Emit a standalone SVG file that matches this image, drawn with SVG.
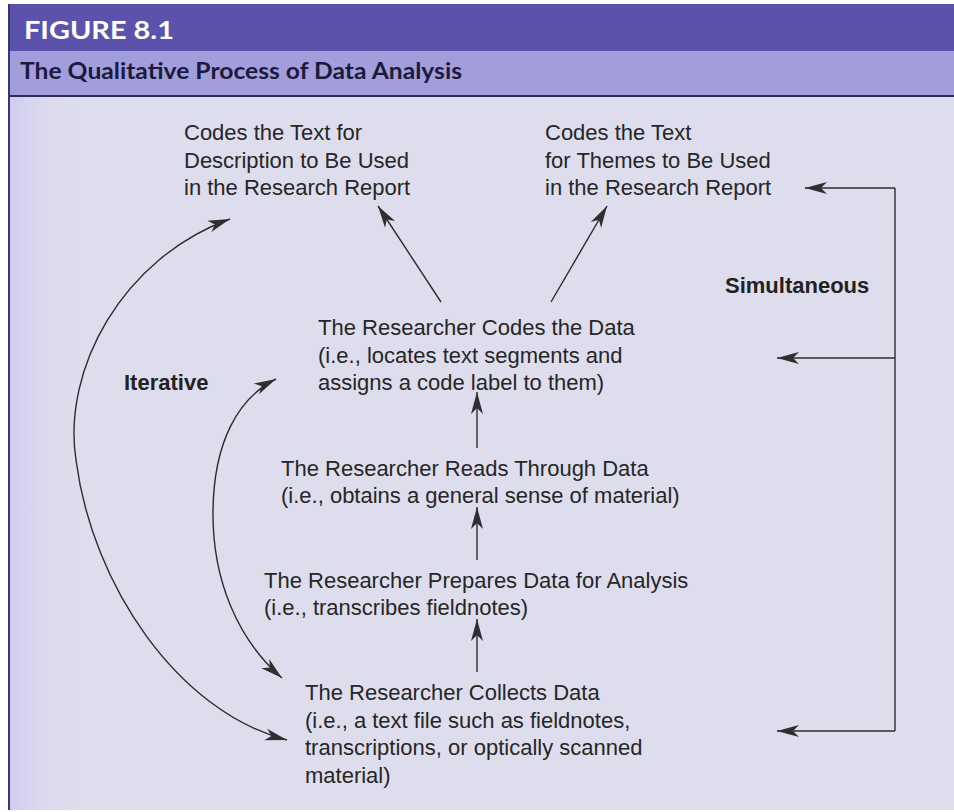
<svg xmlns="http://www.w3.org/2000/svg" width="954" height="812" viewBox="0 0 954 812">
  <style>
    .t { font-family: "Liberation Sans", Arial, sans-serif; font-size: 22px; fill: #262626; }
    .b { font-family: "Liberation Sans", Arial, sans-serif; font-size: 22px; font-weight: bold; fill: #222; }
    .fig { font-family: Lato, "Open Sans", sans-serif; font-size: 25px; font-weight: bold; fill: #ffffff; }
    .ttl { font-family: Lato, "Open Sans", sans-serif; font-size: 22px; font-weight: bold; fill: #1c1a3c; }
    .ln { fill: none; stroke: #2c2c2c; stroke-width: 1.4; }
  </style>
  <defs>
    <marker id="ah" viewBox="-23 -7 25 14" refX="0" refY="0" markerWidth="25" markerHeight="14" markerUnits="userSpaceOnUse" orient="auto-start-reverse">
      <path d="M -22,-6 L 0,0 L -22,6 L -16,0 Z" fill="#2f2f2f"/>
    </marker>
    <linearGradient id="edge" x1="0" y1="0" x2="1" y2="0">
      <stop offset="0" stop-color="#cfccf0"/>
      <stop offset="1" stop-color="#dfdeef" stop-opacity="0"/>
    </linearGradient>
  </defs>

  <!-- page background and header bands -->
  <rect x="0" y="0" width="954" height="812" fill="#ffffff"/>
  <rect x="9" y="4" width="945" height="806" fill="#dedded"/>
  <rect x="9" y="96" width="70" height="714" fill="url(#edge)"/>
  <rect x="9" y="4" width="945" height="47" fill="#5b53ab"/>
  <rect x="9" y="51" width="945" height="44" fill="#a29edc"/>
  <line x1="9" y1="96" x2="954" y2="96" stroke="#2f2c5a" stroke-width="2"/>
  <line x1="9" y1="4" x2="9" y2="810" stroke="#3a3570" stroke-width="2"/>
  <text class="fig" x="24" y="39" textLength="150" lengthAdjust="spacingAndGlyphs">FIGURE 8.1</text>
  <text class="ttl" x="20" y="79" textLength="442" lengthAdjust="spacingAndGlyphs">The Qualitative Process of Data Analysis</text>

  <!-- connectors -->
  <g id="connectors">
    <line class="ln" x1="441" y1="302" x2="378" y2="206" marker-end="url(#ah)"/>
    <line class="ln" x1="551" y1="302" x2="607" y2="206" marker-end="url(#ah)"/>
    <line class="ln" x1="477" y1="448" x2="477" y2="392" marker-end="url(#ah)"/>
    <line class="ln" x1="477" y1="560" x2="477" y2="507" marker-end="url(#ah)"/>
    <line class="ln" x1="477" y1="672" x2="477" y2="619" marker-end="url(#ah)"/>
    <path class="ln" d="M 895,188 L 895,731"/>
    <line class="ln" x1="895" y1="188" x2="805" y2="188" marker-end="url(#ah)"/>
    <line class="ln" x1="895" y1="358" x2="777" y2="358" marker-end="url(#ah)"/>
    <line class="ln" x1="895" y1="731" x2="777" y2="731" marker-end="url(#ah)"/>
    <path class="ln" d="M 230,219 C 122,258 62,370 76,460 C 92,585 178,712 287,740" marker-start="url(#ah)" marker-end="url(#ah)"/>
    <path class="ln" d="M 276,379 C 238,398 214,442 213,510 C 212,580 238,640 282,678" marker-start="url(#ah)" marker-end="url(#ah)"/>
  </g>

  <g id="node-description">
    <text class="t" x="184" y="140">Codes the Text for</text>
    <text class="t" x="184" y="167.5">Description to Be Used</text>
    <text class="t" x="184" y="195">in the Research Report</text>
  </g>
  <g id="node-themes">
    <text class="t" x="545" y="140">Codes the Text</text>
    <text class="t" x="545" y="167.5">for Themes to Be Used</text>
    <text class="t" x="545" y="195">in the Research Report</text>
  </g>
  <g id="label-simultaneous">
    <text class="b" x="725" y="293">Simultaneous</text>
  </g>
  <g id="label-iterative">
    <text class="b" x="124" y="390">Iterative</text>
  </g>
  <g id="node-codes">
    <text class="t" x="318" y="335">The Researcher Codes the Data</text>
    <text class="t" x="318" y="362.5">(i.e., locates text segments and</text>
    <text class="t" x="318" y="390">assigns a code label to them)</text>
  </g>
  <g id="node-reads">
    <text class="t" x="281" y="476">The Researcher Reads Through Data</text>
    <text class="t" x="281" y="503">(i.e., obtains a general sense of material)</text>
  </g>
  <g id="node-prepares">
    <text class="t" x="264" y="588">The Researcher Prepares Data for Analysis</text>
    <text class="t" x="264" y="615">(i.e., transcribes fieldnotes)</text>
  </g>
  <g id="node-collects">
    <text class="t" x="305" y="700">The Researcher Collects Data</text>
    <text class="t" x="305" y="727.5">(i.e., a text file such as fieldnotes,</text>
    <text class="t" x="305" y="755">transcriptions, or optically scanned</text>
    <text class="t" x="305" y="782.5">material)</text>
  </g>
</svg>
